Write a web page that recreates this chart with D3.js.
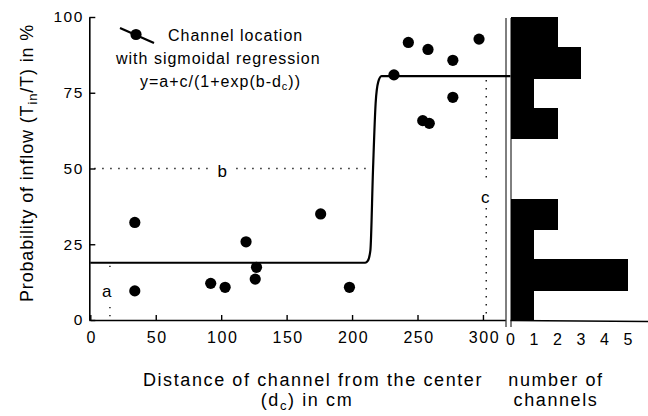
<!DOCTYPE html>
<html>
<head>
<meta charset="utf-8">
<script src="https://cdn.jsdelivr.net/npm/d3@7"></script>
<style>
  body { margin: 0; background: #fff; }
  svg text { font-family: "Liberation Sans", Arial, sans-serif; fill: #000; }
</style>
</head>
<body>
<div id="chart"></div>
<script>
// Kanal-Positionen: Abstand vom Zentrum (cm) und Anteil Einstrom (%)
const distances = [34, 34, 92, 103, 119, 126, 127, 176, 198, 232, 243, 258, 297, 277, 277, 254, 259];
const inflow    = [32.2, 9.6, 12.1, 10.8, 25.8, 13.5, 17.4, 35, 10.8, 80.9, 91.6, 89.3, 92.7, 85.7, 73.5, 65.8, 64.9];

// Regressionskurve, Stuetzpunkte
const curveD = [0, 210, 212, 214, 216, 218, 220, 222.5, 321];
const curveV = [18.9, 18.9, 19.5, 23, 49.5, 71.5, 78.6, 80.5, 80.5];

// Histogramm: Klassen (Untergrenze in %) und Anzahl Kanaele
const binStart = [0, 10, 20, 30, 40, 50, 60, 70, 80, 90];
const binCount = [1, 5, 1, 2, 0, 0, 2, 1, 3, 2];

// Achsenbeschriftungen
const xTicks = [0, 50, 100, 150, 200, 250, 300];
const yTicks = [0, 25, 50, 75, 100];
const hTicks = [0, 1, 2, 3, 4, 5];

// Parameter-Markierungen a, b, c
const paramA = 18.9, paramB = 215, paramC = 80.5;

const W = 648, H = 416;

const svg = d3.select("#chart")
    .append("svg")
    .attr("width", W)
    .attr("height", H);

// Skalen
const x = d3.scaleLinear().domain([0, 317]).range([90.3, 505.2]);
const y = d3.scaleLinear().domain([0, 100]).range([320, 17]);
const xh = d3.scaleLinear().domain([0, 5]).range([510.5, 628]);

// X-Achse
const gx = svg.append("g")
    .attr("transform", `translate(0,${y(0)})`)
    .call(d3.axisBottom(x).tickValues(xTicks).tickSizeInner(-5).tickSizeOuter(0).tickPadding(12));

// Y-Achse
const gy = svg.append("g")
    .attr("transform", `translate(${x(0) - 1},0)`)
    .call(d3.axisLeft(y).tickValues(yTicks).tickSizeInner(-6).tickSizeOuter(0).tickPadding(7));

[gx, gy].forEach(g => {
    g.select(".domain").attr("stroke", "#000").attr("stroke-width", 1.6);
    g.selectAll(".tick line").attr("stroke", "#000").attr("stroke-width", 1.4);
    g.selectAll(".tick text")
        .attr("fill", "#000")
        .style("letter-spacing", "1.5px")
        .attr("font-family", "Liberation Sans, Arial, sans-serif");
});
gx.selectAll(".tick text").attr("font-size", "16px").attr("dx", "1");
gy.selectAll(".tick text").attr("font-size", "15.5px").attr("dx", "1.5");

// Gepunktete Hilfslinien fuer a, b, c
const dotted = {stroke: "#000", "stroke-width": 1.3, "stroke-dasharray": "1.3,6.7", fill: "none"};
function dotLine(x1, y1, x2, y2) {
    const l = svg.append("line").attr("x1", x1).attr("y1", y1).attr("x2", x2).attr("y2", y2);
    Object.entries(dotted).forEach(([k, v]) => l.attr(k, v));
}
// b: horizontal bei 50 %
dotLine(x(0) + 4, y(50), x(0) + 118, y(50));
dotLine(x(0) + 146, y(50), x(paramB) - 3, y(50));
svg.append("text").attr("x", x(0) + 132).attr("y", y(50) + 8)
    .attr("text-anchor", "middle").attr("font-size", "17px").text("b");
// c: vertikal
dotLine(x(302.5), y(paramC) + 4, x(302.5), y(paramC) + 104);
dotLine(x(302.5), y(paramC) + 132, x(302.5), y(0) - 2);
svg.append("text").attr("x", x(302.5) - 1).attr("y", y(paramC) + 127)
    .attr("text-anchor", "middle").attr("font-size", "17px").text("c");
// a: vertikal
dotLine(x(15), y(paramA) + 3, x(15), y(paramA) + 6);
dotLine(x(15), y(0) - 13, x(15), y(0) - 2);
svg.append("text").attr("x", x(12.5)).attr("y", y(0) - 23)
    .attr("text-anchor", "middle").attr("font-size", "17px").text("a");

// Regressionskurve
const curvePts = curveD.map((d, i) => [d, curveV[i]]);
svg.append("path")
    .datum(curvePts)
    .attr("fill", "none")
    .attr("stroke", "#000")
    .attr("stroke-width", 2.2)
    .attr("d", d3.line().x(d => x(d[0])).y(d => y(d[1])).curve(d3.curveMonotoneX));

// Messpunkte
svg.selectAll(".pt")
    .data(distances.map((d, i) => ({d: d, v: inflow[i]})))
    .join("circle")
    .attr("class", "pt")
    .attr("cx", d => x(d.d))
    .attr("cy", d => y(d.v))
    .attr("r", 5.6)
    .attr("fill", "#000");

// Trennlinien zwischen Streudiagramm und Histogramm
svg.append("line").attr("x1", 506).attr("x2", 506).attr("y1", 18).attr("y2", 327)
    .attr("stroke", "#000").attr("stroke-width", 1);
svg.append("line").attr("x1", xh(0) + 0.5).attr("x2", xh(0) + 0.5).attr("y1", 18).attr("y2", 327)
    .attr("stroke", "#000").attr("stroke-width", 1);

// Histogramm
svg.selectAll(".bin")
    .data(binStart.map((b, i) => ({b: b, n: binCount[i]})))
    .join("rect")
    .attr("class", "bin")
    .attr("x", xh(0) + 0.5)
    .attr("y", d => Math.round(y(d.b + 10)))
    .attr("width", d => Math.max(0, xh(d.n) - xh(0) - 0.5))
    .attr("height", d => Math.round(y(d.b)) - Math.round(y(d.b + 10)) + 0.5)
    .attr("shape-rendering", "crispEdges")
    .attr("fill", "#000");

svg.append("line").attr("x1", xh(0)).attr("x2", W).attr("y1", y(0) + 0.5).attr("y2", y(0) + 1.5)
    .attr("stroke", "#000").attr("stroke-width", 1.4);

svg.selectAll(".htick")
    .data(hTicks)
    .join("text")
    .attr("class", "htick")
    .attr("x", d => xh(d))
    .attr("y", y(0) + 25)
    .attr("text-anchor", "middle")
    .attr("font-size", "16px")
    .text(d => d);

// Legende
svg.append("line").attr("x1", 120).attr("y1", 28).attr("x2", 154).attr("y2", 43)
    .attr("stroke", "#000").attr("stroke-width", 2.2);
svg.append("circle").attr("cx", 136).attr("cy", 34.5).attr("r", 5.6).attr("fill", "#000");

const legendStyle = t => t.attr("font-size", "16px").style("letter-spacing", "1px");
svg.append("text").attr("x", 168).attr("y", 41).call(legendStyle).text("Channel location");
svg.append("text").attr("x", 116).attr("y", 64).call(legendStyle).text("with sigmoidal regression");
const f = svg.append("text").attr("x", 140).attr("y", 87).call(legendStyle);
f.append("tspan").text("y=a+c/(1+exp(b-d");
f.append("tspan").attr("font-size", "11px").attr("dy", 3).text("c");
f.append("tspan").attr("dy", -3).text("))");

// Achsentitel
const titleStyle = t => t.attr("font-size", "18px").style("letter-spacing", "1.6px");
svg.append("text").attr("x", 313).attr("y", 386).attr("text-anchor", "middle")
    .call(titleStyle).text("Distance of channel from the center");
const xt2 = svg.append("text").attr("x", 307).attr("y", 406).attr("text-anchor", "middle").call(titleStyle);
xt2.append("tspan").text("(d");
xt2.append("tspan").attr("font-size", "13px").attr("dy", 4).text("c");
xt2.append("tspan").attr("dy", -4).text(") in cm");

svg.append("text").attr("x", 556).attr("y", 386).attr("text-anchor", "middle")
    .call(titleStyle).text("number of");
svg.append("text").attr("x", 556).attr("y", 406).attr("text-anchor", "middle")
    .call(titleStyle).text("channels");

const yt = svg.append("text")
    .attr("transform", "translate(33,163) rotate(-90)")
    .attr("text-anchor", "middle")
    .attr("font-size", "18px")
    .style("letter-spacing", "0.85px");
yt.append("tspan").text("Probability of inflow (T");
yt.append("tspan").attr("font-size", "13px").attr("dy", 4).text("in");
yt.append("tspan").attr("dy", -4).text("/T) in %");
</script>
</body>
</html>
